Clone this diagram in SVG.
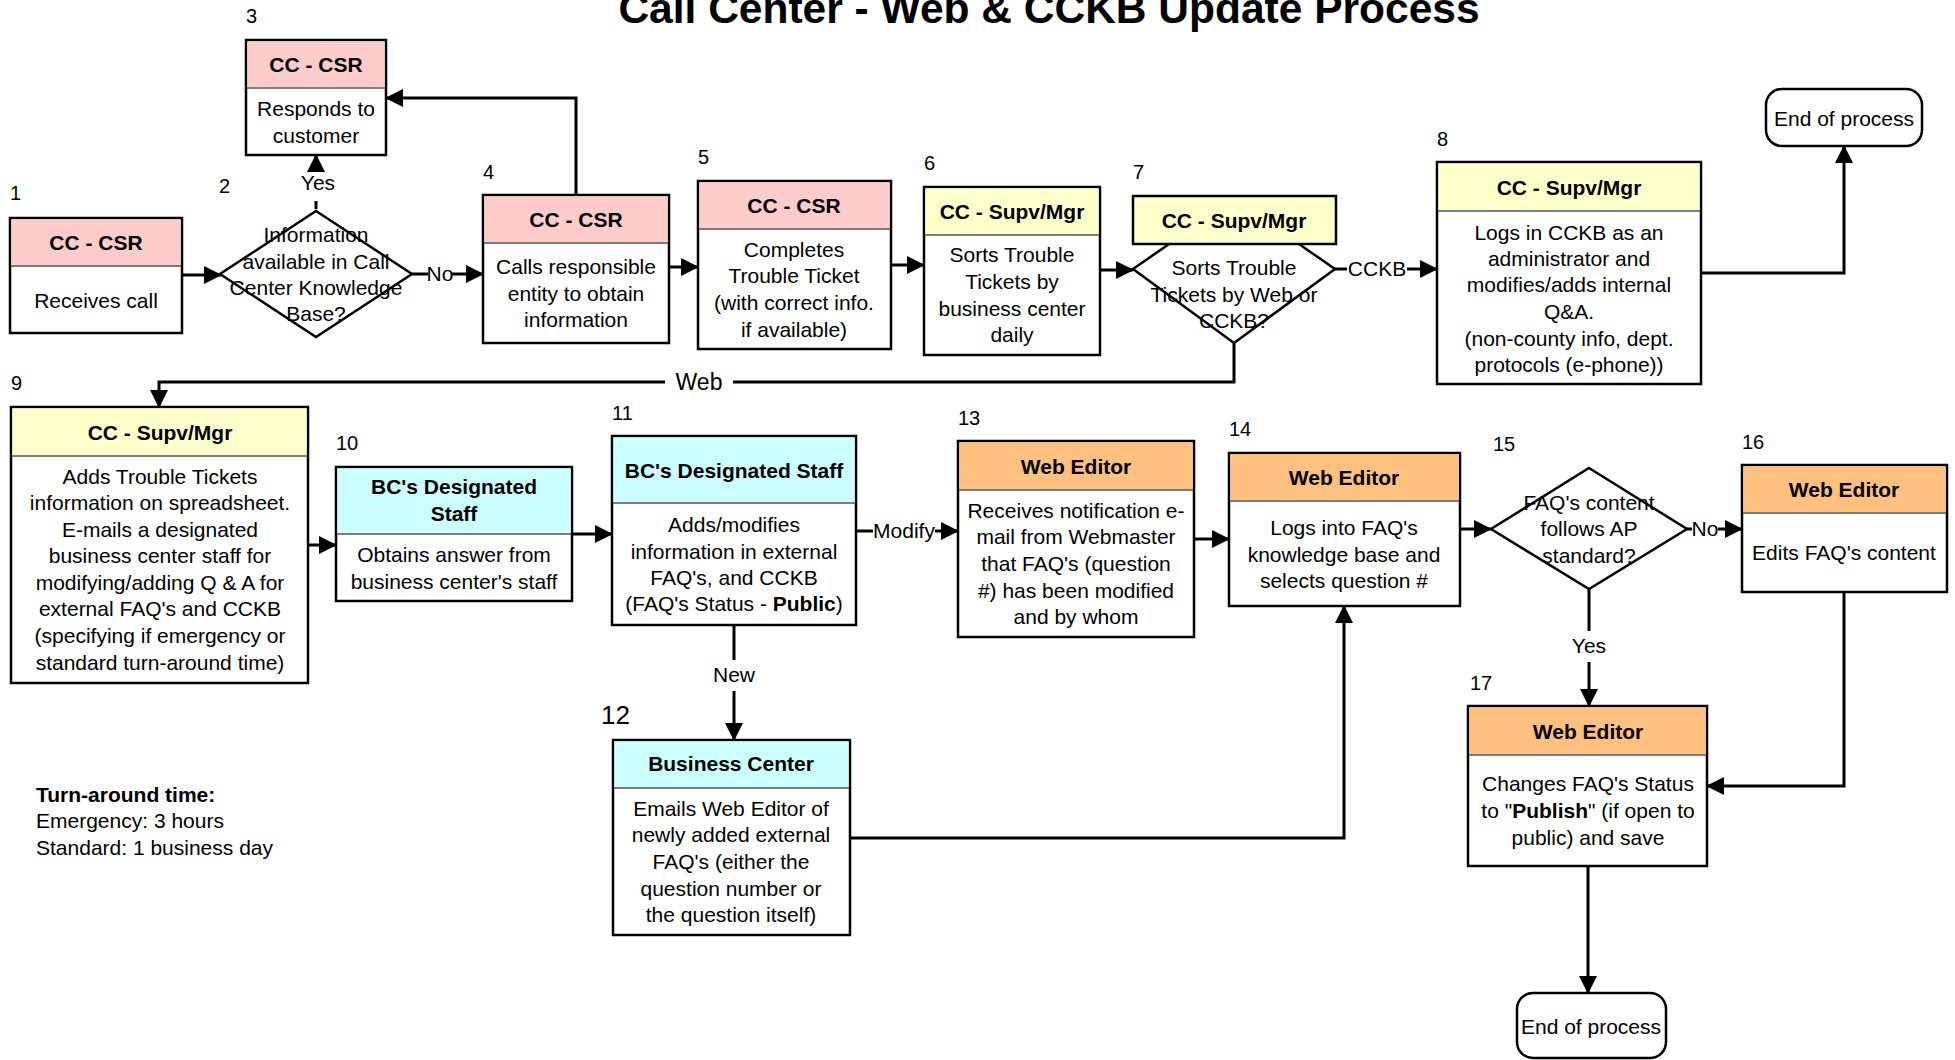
<svg xmlns="http://www.w3.org/2000/svg" width="1955" height="1060" viewBox="0 0 1955 1060">
<defs>
<marker id="arr" markerUnits="userSpaceOnUse" markerWidth="18" markerHeight="18" refX="17" refY="9" orient="auto">
<path d="M0,0 L18,9 L0,18 z" fill="#000"/>
</marker>
<style>
text{font-family:"Liberation Sans",Arial,sans-serif;font-size:21px;fill:#000}
.c{text-anchor:middle}
.h{font-weight:bold;text-anchor:middle}
.n{font-size:20px}
.box{fill:#fff;stroke:#000;stroke-width:2.5}
.hd{stroke:#555;stroke-width:1.5}
.pink{fill:#FFCCCC}
.yel{fill:#FFFFCC}
.cyan{fill:#CCFFFF}
.org{fill:#FFC080}
.dia{fill:#fff;stroke:#000;stroke-width:2.5}
.end{fill:#fff;stroke:#000;stroke-width:2.5}
#connectors path{fill:none;stroke:#000;stroke-width:3}
</style>
</defs>
<rect width="1955" height="1060" fill="#fff"/>
<text x="1049" y="23" class="h" style="font-size:42.5px">Call Center - Web &amp; CCKB Update Process</text>

<g id="connectors">
<path d="M182,275 H221" marker-end="url(#arr)"/>
<path d="M316,209 V201"/>
<path d="M316,171 V155" marker-end="url(#arr)"/>
<path d="M412,274 H428"/>
<path d="M452,274 H483" marker-end="url(#arr)"/>
<path d="M576,195 V98 H386" marker-end="url(#arr)"/>
<path d="M669,267 H698" marker-end="url(#arr)"/>
<path d="M891,265 H924" marker-end="url(#arr)"/>
<path d="M1100,270 H1133" marker-end="url(#arr)"/>
<path d="M1335,269 H1347"/>
<path d="M1407,269 H1437" marker-end="url(#arr)"/>
<path d="M1234,343 V382 H733"/>
<path d="M665,382 H159 V407" marker-end="url(#arr)"/>
<path d="M1701,273 H1844 V146" marker-end="url(#arr)"/>
<path d="M308,545 H336" marker-end="url(#arr)"/>
<path d="M572,534 H612" marker-end="url(#arr)"/>
<path d="M856,531 H873"/>
<path d="M935,531 H958" marker-end="url(#arr)"/>
<path d="M734,625 V660"/>
<path d="M734,691 V740" marker-end="url(#arr)"/>
<path d="M850,838 H1344 V606" marker-end="url(#arr)"/>
<path d="M1194,539 H1229" marker-end="url(#arr)"/>
<path d="M1460,529 H1491" marker-end="url(#arr)"/>
<path d="M1687,529 H1692"/>
<path d="M1718,529 H1742" marker-end="url(#arr)"/>
<path d="M1589,589 V631"/>
<path d="M1589,662 V706" marker-end="url(#arr)"/>
<path d="M1844,592 V786 H1707" marker-end="url(#arr)"/>
<path d="M1588,866 V993" marker-end="url(#arr)"/>
<text x="318" y="190" class="c">Yes</text>
<text x="440" y="281" class="c">No</text>
<text x="1377" y="276" class="c">CCKB</text>
<text x="699" y="390" class="c" style="font-size:23px">Web</text>
<text x="904" y="538" class="c">Modify</text>
<text x="734" y="682" class="c">New</text>
<text x="1705" y="536" class="c">No</text>
<text x="1589" y="653" class="c">Yes</text>
</g>

<g id="node1">
<rect class="box" x="10" y="218" width="172" height="115"/>
<rect class="pink" x="11.5" y="219.5" width="169" height="47"/>
<line class="hd" x1="11" y1="266" x2="181" y2="266"/>
<text x="96" y="250" class="h">CC - CSR</text>
<text x="96" y="308" class="c">Receives call</text>
<text x="10" y="200" class="n">1</text>
</g>

<g id="node2">
<polygon class="dia" points="316,211 412,274 316,337 220,274"/>
<text x="316" y="242" class="c">Information</text>
<text x="316" y="269" class="c">available in Call</text>
<text x="316" y="295" class="c">Center Knowledge</text>
<text x="316" y="321" class="c">Base?</text>
<text x="219" y="193" class="n">2</text>
</g>

<g id="node3">
<rect class="box" x="246" y="40" width="140" height="115"/>
<rect class="pink" x="247.5" y="41.5" width="137" height="46"/>
<line class="hd" x1="247" y1="88" x2="385" y2="88"/>
<text x="316" y="72" class="h">CC - CSR</text>
<text x="316" y="116" class="c">Responds to</text>
<text x="316" y="143" class="c">customer</text>
<text x="246" y="23" class="n">3</text>
</g>

<g id="node4">
<rect class="box" x="483" y="195" width="186" height="148"/>
<rect class="pink" x="484.5" y="196.5" width="183" height="46"/>
<line class="hd" x1="484" y1="243" x2="668" y2="243"/>
<text x="576" y="227" class="h">CC - CSR</text>
<text x="576" y="274" class="c">Calls responsible</text>
<text x="576" y="301" class="c">entity to obtain</text>
<text x="576" y="327" class="c">information</text>
<text x="483" y="179" class="n">4</text>
</g>

<g id="node5">
<rect class="box" x="698" y="181" width="193" height="168"/>
<rect class="pink" x="699.5" y="182.5" width="190" height="46"/>
<line class="hd" x1="699" y1="229" x2="890" y2="229"/>
<text x="794" y="213" class="h">CC - CSR</text>
<text x="794" y="257" class="c">Completes</text>
<text x="794" y="283" class="c">Trouble Ticket</text>
<text x="794" y="310" class="c">(with correct info.</text>
<text x="794" y="337" class="c">if available)</text>
<text x="698" y="164" class="n">5</text>
</g>

<g id="node6">
<rect class="box" x="924" y="187" width="176" height="168"/>
<rect class="yel" x="925.5" y="188.5" width="173" height="46"/>
<line class="hd" x1="925" y1="235" x2="1099" y2="235"/>
<text x="1012" y="219" class="h">CC - Supv/Mgr</text>
<text x="1012" y="262" class="c">Sorts Trouble</text>
<text x="1012" y="289" class="c">Tickets by</text>
<text x="1012" y="316" class="c">business center</text>
<text x="1012" y="342" class="c">daily</text>
<text x="924" y="170" class="n">6</text>
</g>

<g id="node7">
<polygon class="dia" points="1234,199 1335,269 1234,343 1133,269"/>
<rect class="box yel" x="1133" y="196" width="203" height="48" style="fill:#FFFFCC"/>
<text x="1234" y="228" class="h">CC - Supv/Mgr</text>
<text x="1234" y="275" class="c">Sorts Trouble</text>
<text x="1234" y="302" class="c">Tickets by Web or</text>
<text x="1234" y="328" class="c">CCKB?</text>
<text x="1133" y="179" class="n">7</text>
</g>

<g id="node8">
<rect class="box" x="1437" y="162" width="264" height="222"/>
<rect class="yel" x="1438.5" y="163.5" width="261" height="47"/>
<line class="hd" x1="1438" y1="211" x2="1700" y2="211"/>
<text x="1569" y="195" class="h">CC - Supv/Mgr</text>
<text x="1569" y="240" class="c">Logs in CCKB as an</text>
<text x="1569" y="266" class="c">administrator and</text>
<text x="1569" y="292" class="c">modifies/adds internal</text>
<text x="1569" y="319" class="c">Q&amp;A.</text>
<text x="1569" y="346" class="c">(non-county info, dept.</text>
<text x="1569" y="372" class="c">protocols (e-phone))</text>
<text x="1437" y="146" class="n">8</text>
</g>

<g id="end1">
<rect class="end" x="1766" y="89" width="156" height="57" rx="16"/>
<text x="1844" y="126" class="c">End of process</text>
</g>

<g id="node9">
<rect class="box" x="11" y="407" width="297" height="276"/>
<rect class="yel" x="12.5" y="408.5" width="294" height="47"/>
<line class="hd" x1="12" y1="456" x2="307" y2="456"/>
<text x="160" y="440" class="h">CC - Supv/Mgr</text>
<text x="160" y="484" class="c">Adds Trouble Tickets</text>
<text x="160" y="510" class="c">information on spreadsheet.</text>
<text x="160" y="537" class="c">E-mails a designated</text>
<text x="160" y="563" class="c">business center staff for</text>
<text x="160" y="590" class="c">modifying/adding Q &amp; A for</text>
<text x="160" y="616" class="c">external FAQ's and CCKB</text>
<text x="160" y="643" class="c">(specifying if emergency or</text>
<text x="160" y="670" class="c">standard turn-around time)</text>
<text x="11" y="390" class="n">9</text>
</g>

<g id="node10">
<rect class="box" x="336" y="467" width="236" height="134"/>
<rect class="cyan" x="337.5" y="468.5" width="233" height="65"/>
<line class="hd" x1="337" y1="534" x2="571" y2="534"/>
<text x="454" y="494" class="h">BC's Designated</text>
<text x="454" y="521" class="h">Staff</text>
<text x="454" y="562" class="c">Obtains answer from</text>
<text x="454" y="589" class="c">business center's staff</text>
<text x="336" y="450" class="n">10</text>
</g>

<g id="node11">
<rect class="box" x="612" y="436" width="244" height="189"/>
<rect class="cyan" x="613.5" y="437.5" width="241" height="65"/>
<line class="hd" x1="613" y1="503" x2="855" y2="503"/>
<text x="734" y="478" class="h">BC's Designated Staff</text>
<text x="734" y="532" class="c">Adds/modifies</text>
<text x="734" y="559" class="c">information in external</text>
<text x="734" y="585" class="c">FAQ's, and CCKB</text>
<text x="734" y="611" class="c">(FAQ's Status - <tspan font-weight="bold">Public</tspan>)</text>
<text x="612" y="420" class="n">11</text>
</g>

<g id="node12">
<rect class="box" x="613" y="740" width="237" height="195"/>
<rect class="cyan" x="614.5" y="741.5" width="234" height="46"/>
<line class="hd" x1="614" y1="788" x2="849" y2="788"/>
<text x="731" y="771" class="h">Business Center</text>
<text x="731" y="816" class="c">Emails Web Editor of</text>
<text x="731" y="842" class="c">newly added external</text>
<text x="731" y="869" class="c">FAQ's (either the</text>
<text x="731" y="896" class="c">question number or</text>
<text x="731" y="922" class="c">the question itself)</text>
<text x="601" y="724" style="font-size:26px">12</text>
</g>

<g id="node13">
<rect class="box" x="958" y="441" width="236" height="196"/>
<rect class="org" x="959.5" y="442.5" width="233" height="47"/>
<line class="hd" x1="959" y1="490" x2="1193" y2="490"/>
<text x="1076" y="474" class="h">Web Editor</text>
<text x="1076" y="518" class="c">Receives notification e-</text>
<text x="1076" y="544" class="c">mail from Webmaster</text>
<text x="1076" y="571" class="c">that FAQ's (question</text>
<text x="1076" y="598" class="c">#) has been modified</text>
<text x="1076" y="624" class="c">and by whom</text>
<text x="958" y="425" class="n">13</text>
</g>

<g id="node14">
<rect class="box" x="1229" y="453" width="231" height="153"/>
<rect class="org" x="1230.5" y="454.5" width="228" height="46"/>
<line class="hd" x1="1230" y1="501" x2="1459" y2="501"/>
<text x="1344" y="485" class="h">Web Editor</text>
<text x="1344" y="535" class="c">Logs into FAQ's</text>
<text x="1344" y="562" class="c">knowledge base and</text>
<text x="1344" y="588" class="c">selects question #</text>
<text x="1229" y="436" class="n">14</text>
</g>

<g id="node15">
<polygon class="dia" points="1589,468 1687,529 1589,589 1491,529"/>
<text x="1589" y="510" class="c">FAQ's content</text>
<text x="1589" y="536" class="c">follows AP</text>
<text x="1589" y="563" class="c">standard?</text>
<text x="1493" y="451" class="n">15</text>
</g>

<g id="node16">
<rect class="box" x="1742" y="465" width="205" height="127"/>
<rect class="org" x="1743.5" y="466.5" width="202" height="46"/>
<line class="hd" x1="1743" y1="513" x2="1946" y2="513"/>
<text x="1844" y="497" class="h">Web Editor</text>
<text x="1844" y="560" class="c">Edits FAQ's content</text>
<text x="1742" y="449" class="n">16</text>
</g>

<g id="node17">
<rect class="box" x="1468" y="706" width="239" height="160"/>
<rect class="org" x="1469.5" y="707.5" width="236" height="47"/>
<line class="hd" x1="1469" y1="755" x2="1706" y2="755"/>
<text x="1588" y="739" class="h">Web Editor</text>
<text x="1588" y="791" class="c">Changes FAQ's Status</text>
<text x="1588" y="818" class="c">to "<tspan font-weight="bold">Publish</tspan>" (if open to</text>
<text x="1588" y="845" class="c">public) and save</text>
<text x="1470" y="690" class="n">17</text>
</g>

<g id="end2">
<rect class="end" x="1517" y="993" width="149" height="65" rx="16"/>
<text x="1591" y="1034" class="c">End of process</text>
</g>

<g id="note">
<text x="36" y="802" font-weight="bold">Turn-around time:</text>
<text x="36" y="828">Emergency: 3 hours</text>
<text x="36" y="855">Standard: 1 business day</text>
</g>
</svg>
